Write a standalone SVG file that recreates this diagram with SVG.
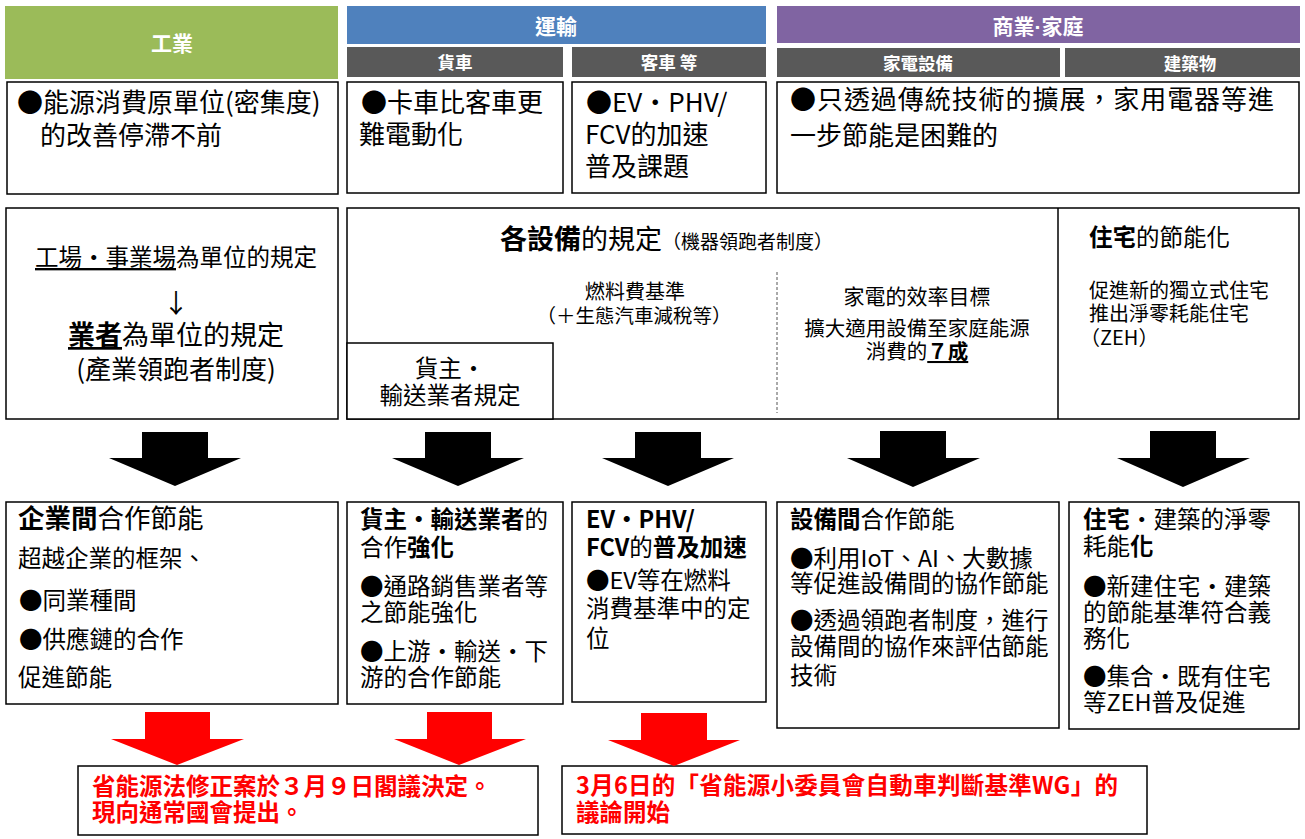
<svg xmlns="http://www.w3.org/2000/svg" width="1305" height="839" viewBox="0 0 1305 839">
<style>
text{font-family:"Noto Sans CJK TC","Noto Sans CJK JP",sans-serif;fill:#000}
.box{fill:#fff;stroke:#000;stroke-width:1.5}
.hd{fill:#fff;font-weight:bold;text-anchor:middle}
.b{font-weight:bold}
.u{text-decoration:underline}
.m{text-anchor:middle}
.f26{font-size:26px}
.f23{font-size:23.5px}
.f20{font-size:20px}
.red{fill:#f00;font-weight:bold;font-size:23.5px}
.blk{fill:#000}
.rarr{fill:#f00}
</style>
<rect width="1305" height="839" fill="#fff"/>

<g id="hdr-industry">
<rect x="5" y="6" width="333" height="73" fill="#9BBB59"/>
<text class="hd" x="172" y="51" font-size="21">工業</text>
</g>
<g id="hdr-transport">
<rect x="347" y="6" width="419" height="38" fill="#4F81BD"/>
<text class="hd" x="556" y="34" font-size="21">運輸</text>
</g>
<g id="hdr-freight">
<rect x="347" y="47" width="216" height="30" fill="#595959"/>
<text class="hd" x="455" y="69" font-size="17.5">貨車</text>
</g>
<g id="hdr-passenger">
<rect x="572" y="47" width="194" height="30" fill="#595959"/>
<text class="hd" x="669" y="69" font-size="17.5">客車 等</text>
</g>
<g id="hdr-commercial">
<rect x="777" y="6" width="523" height="37" fill="#8064A2"/>
<text class="hd" x="1038" y="34" font-size="21">商業<tspan font-family="Liberation Sans, sans-serif">·</tspan>家庭</text>
</g>
<g id="hdr-appliance">
<rect x="777" y="48" width="283" height="29" fill="#595959"/>
<text class="hd" x="918" y="70" font-size="17.5">家電設備</text>
</g>
<g id="hdr-building">
<rect x="1065" y="48" width="235" height="29" fill="#595959"/>
<text class="hd" x="1190" y="70" font-size="17.5">建築物</text>
</g>

<g id="issue-industry">
<rect class="box" x="7" y="82" width="331" height="112"/>
<text class="f26" x="17" y="112">●能源消費原單位(密集度)</text>
<text class="f26" x="40" y="145">的改善停滯不前</text>
</g>
<g id="issue-freight">
<rect class="box" x="347" y="82" width="216" height="111"/>
<text class="f26" x="361" y="112">●卡車比客車更</text>
<text class="f26" x="359" y="144">難電動化</text>
</g>
<g id="issue-passenger">
<rect class="box" x="572" y="82" width="194" height="111"/>
<text class="f26" x="586" y="112">●EV・PHV/</text>
<text class="f26" x="585" y="144">FCV的加速</text>
<text class="f26" x="585" y="176">普及課題</text>
</g>
<g id="issue-commercial">
<rect class="box" x="777" y="82" width="522" height="111"/>
<text class="f26" x="790" y="109" textLength="484" lengthAdjust="spacing">●只透過傳統技術的擴展，家用電器等進</text>
<text class="f26" x="790" y="145">一步節能是困難的</text>
</g>

<g id="reg-industry">
<rect class="box" x="6" y="208" width="332" height="211"/>
<text class="f23 m" x="176" y="266"><tspan class="u">工場・事業場</tspan>為單位的規定</text>
<text class="m" x="176" y="313" font-size="26">↓</text>
<text class="m" x="176" y="345" font-size="27"><tspan class="b u">業者</tspan>為單位的規定</text>
<text class="m" x="176" y="379" font-size="26">(產業領跑者制度)</text>
</g>

<g id="reg-equipment">
<rect class="box" x="347" y="208" width="952" height="211"/>
<line x1="1058" y1="208" x2="1058" y2="419" stroke="#000" stroke-width="1.5"/>
<line x1="777" y1="272" x2="777" y2="413" stroke="#555" stroke-width="1" stroke-dasharray="3,2"/>
<text x="500" y="249" font-size="27"><tspan class="b">各設備</tspan>的規定<tspan font-size="19">（機器領跑者制度）</tspan></text>
<text class="m f20" x="635" y="299">燃料費基準</text>
<text class="m" x="634" y="323" font-size="19.5">（＋生態汽車減稅等）</text>
<text class="m" x="917" y="304" font-size="21">家電的效率目標</text>
<text class="m" x="917" y="336" font-size="20.5">擴大適用設備至家庭能源</text>
<text class="m" x="917" y="359" font-size="20.5">消費的<tspan class="b u">７成</tspan></text>
<text class="f23" x="1089" y="246"><tspan class="b">住宅</tspan>的節能化</text>
<text class="f20" x="1089" y="298">促進新的獨立式住宅</text>
<text class="f20" x="1089" y="321">推出淨零耗能住宅</text>
<text class="f20" x="1080" y="345">（ZEH）</text>
</g>
<g id="reg-shipper">
<rect class="box" x="347" y="343" width="206" height="76"/>
<text class="f23 m" x="450" y="377">貨主・</text>
<text class="f23 m" x="450" y="404">輸送業者規定</text>
</g>

<g id="act-industry">
<rect class="box" x="6" y="502" width="332" height="202"/>
<text x="18" y="528" font-size="26.5"><tspan class="b">企業間</tspan>合作節能</text>
<text class="f23" x="18" y="567">超越企業的框架、</text>
<text class="f23" x="19" y="609">●同業種間</text>
<text class="f23" x="19" y="648">●供應鏈的合作</text>
<text class="f23" x="18" y="686">促進節能</text>
</g>
<g id="act-freight">
<rect class="box" x="347" y="502" width="216" height="202"/>
<text class="f23" x="360" y="528"><tspan class="b">貨主・輸送業者</tspan>的</text>
<text class="f23" x="360" y="556">合作<tspan class="b">強化</tspan></text>
<text class="f23" x="360" y="595">●通路銷售業者等</text>
<text class="f23" x="360" y="621">之節能強化</text>
<text class="f23" x="360" y="660">●上游・輸送・下</text>
<text class="f23" x="360" y="686">游的合作節能</text>
</g>
<g id="act-passenger">
<rect class="box" x="572" y="502" width="194" height="200"/>
<text class="f23 b" x="586" y="528">EV・PHV/</text>
<text class="f23" x="586" y="556"><tspan class="b">FCV</tspan>的<tspan class="b">普及加速</tspan></text>
<text class="f23" x="586" y="589">●EV等在燃料</text>
<text class="f23" x="586" y="617">消費基準中的定</text>
<text class="f23" x="586" y="647">位</text>
</g>
<g id="act-appliance">
<rect class="box" x="777" y="502" width="282" height="226"/>
<text class="f23" x="790" y="528"><tspan class="b">設備間</tspan>合作節能</text>
<text class="f23" x="790" y="567">●利用IoT、AI、大數據</text>
<text class="f23" x="790" y="592">等促進設備間的協作節能</text>
<text class="f23" x="790" y="629">●透過領跑者制度，進行</text>
<text class="f23" x="790" y="655">設備間的協作來評估節能</text>
<text class="f23" x="790" y="684">技術</text>
</g>
<g id="act-building">
<rect class="box" x="1069" y="502" width="230" height="227"/>
<text class="f23" x="1083" y="528"><tspan class="b">住宅</tspan>・建築的淨零</text>
<text class="f23" x="1083" y="555">耗能<tspan class="b">化</tspan></text>
<text class="f23" x="1083" y="595">●新建住宅・建築</text>
<text class="f23" x="1083" y="621">的節能基準符合義</text>
<text class="f23" x="1083" y="647">務化</text>
<text class="f23" x="1083" y="685">●集合・既有住宅</text>
<text class="f23" x="1083" y="711">等ZEH普及促進</text>
</g>

<g id="result-law">
<rect class="box" x="78" y="766" width="460" height="69"/>
<text class="red" x="92" y="795">省能源法修正案於３月９日閣議決定。</text>
<text class="red" x="92" y="821">現向通常國會提出。</text>
</g>
<g id="result-wg">
<rect class="box" x="562" y="766" width="585" height="68"/>
<text class="red" x="576" y="794" textLength="542" lengthAdjust="spacing">3月6日的「省能源小委員會自動車判斷基準WG」的</text>
<text class="red" x="576" y="821">議論開始</text>
</g>

<g id="connectors">
<polygon class="blk" points="142,432 208,432 208,458 241,458 175,486 109,458 142,458"/>
<polygon class="blk" points="425,432 491,432 491,458 524,458 458,486 392,458 425,458"/>
<polygon class="blk" points="635,432 701,432 701,458 734,458 668,486 602,458 635,458"/>
<polygon class="blk" points="880,431 946,431 946,458 980,458 913,487 847,458 880,458"/>
<polygon class="blk" points="1150,431 1216,431 1216,458 1250,458 1183,487 1117,458 1150,458"/>
<polygon class="rarr" points="145,712 210,712 210,739 244,739 177,765 111,739 145,739"/>
<polygon class="rarr" points="427,712 492,712 492,739 526,739 459,765 394,739 427,739"/>
<polygon class="rarr" points="641,713 707,713 707,740 740,740 674,766 608,740 641,740"/>
</g>
</svg>
